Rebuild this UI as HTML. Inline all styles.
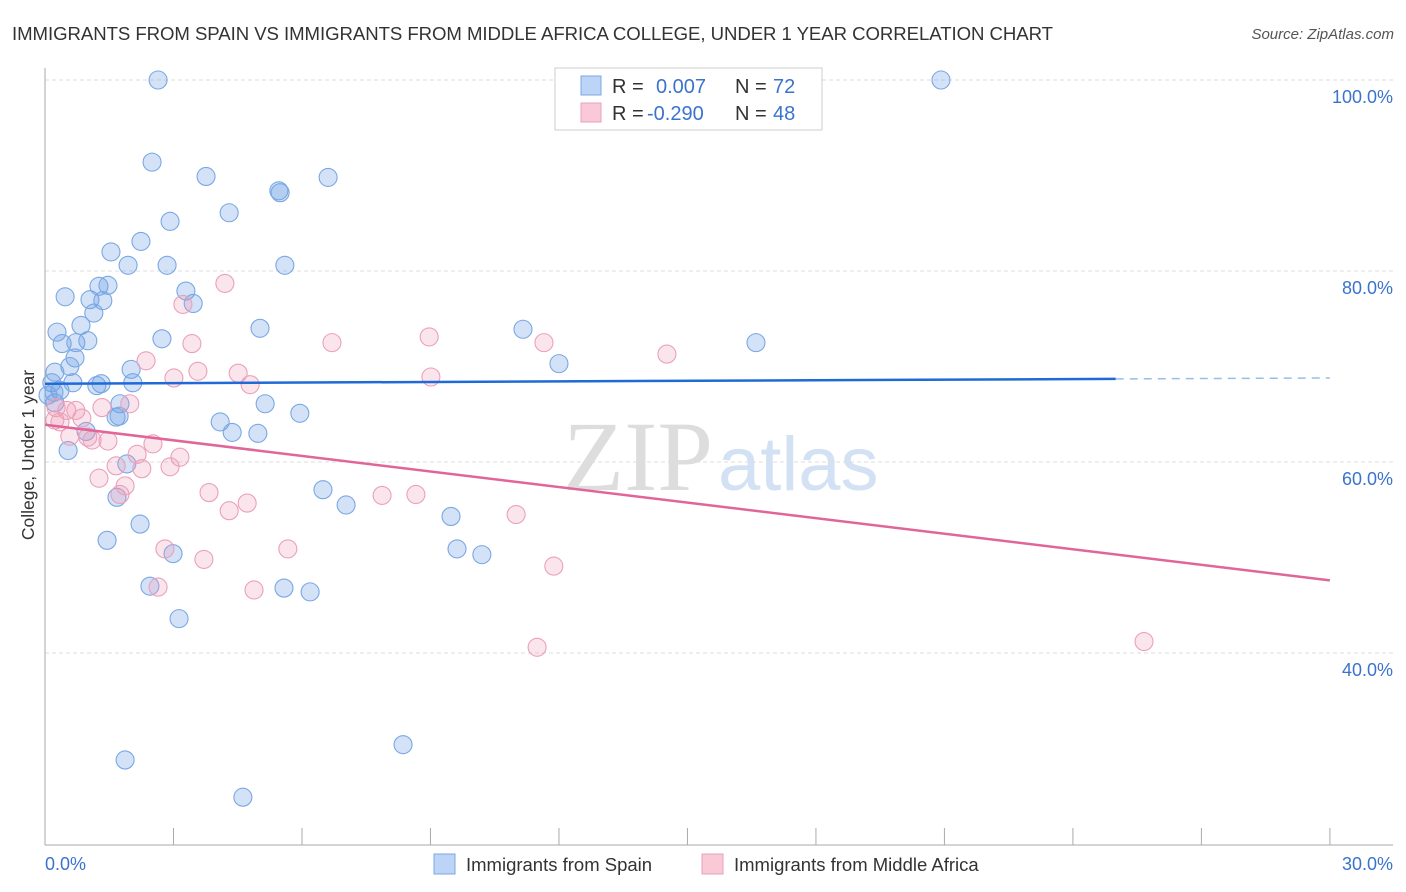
<!DOCTYPE html>
<html><head><meta charset="utf-8"><style>
body{margin:0;background:#fff;font-family:"Liberation Sans",sans-serif;}
svg{display:block}
</style></head><body>
<svg id="chart" width="1406" height="892" xmlns="http://www.w3.org/2000/svg">
<text x="12" y="40" font-size="18.6" fill="#333" textLength="1041">IMMIGRANTS FROM SPAIN VS IMMIGRANTS FROM MIDDLE AFRICA COLLEGE, UNDER 1 YEAR CORRELATION CHART</text>
<text x="1394" y="39" font-size="15" fill="#555" font-style="italic" text-anchor="end">Source: ZipAtlas.com</text>
<text x="713" y="490" font-size="100" fill="#ddd" text-anchor="end" font-family="Liberation Serif">ZIP</text>
<text x="718" y="490" font-size="76" fill="#d3e1f4">atlas</text>
<g id="grid"></g><g id="axes"></g><g id="pts"></g><g id="lines"></g>
<text transform="translate(34,455) rotate(-90)" font-size="17.5" fill="#333" text-anchor="middle">College, Under 1 year</text>
<text x="45" y="870" font-size="18" fill="#3b73cc">0.0%</text>
<text x="1393" y="870" font-size="18" fill="#3b73cc" text-anchor="end">30.0%</text>
<g>
<rect x="555" y="68" width="267" height="62" fill="#fff" stroke="#ccc"/>
<rect x="581" y="76" width="20" height="19" fill="#bcd4f5" stroke="#7aa7e6"/>
<rect x="581" y="103" width="20" height="19" fill="#f9c9d8" stroke="#ec9fb8"/>
<text x="612" y="93" font-size="20" fill="#333">R = <tspan fill="#3b73cc" x="656">0.007</tspan><tspan x="735">N =</tspan><tspan fill="#3b73cc" x="773">72</tspan></text>
<text x="612" y="120" font-size="20" fill="#333">R = <tspan fill="#3b73cc" x="647">-0.290</tspan><tspan x="735">N =</tspan><tspan fill="#3b73cc" x="773">48</tspan></text>
</g>
<g>
<rect x="434" y="854" width="21" height="20" fill="#bcd4f5" stroke="#7aa7e6"/>
<text x="466" y="871" font-size="18.5" fill="#333">Immigrants from Spain</text>
<rect x="702" y="854" width="21" height="20" fill="#f9c9d8" stroke="#ec9fb8"/>
<text x="734" y="871" font-size="18.5" fill="#333">Immigrants from Middle Africa</text>
</g>
</svg>
<script>
const yTicks=[100,80,60,40];
const yTickLabels=["100.0%","80.0%","60.0%","40.0%"];
const xTicks=[0,3,6,9,12,15,18,21,24,27,30];
const spainX=[2.64,20.92,2.50,3.76,6.61,5.46,5.49,4.30,2.92,1.54,2.24,1.94,2.85,5.60,0.47,1.05,1.26,1.47,1.35,1.14,3.29,3.46,0.84,0.28,0.40,0.72,1.00,5.02,11.16,2.73,16.60,0.70,0.58,0.23,2.01,12.00,0.16,0.35,0.65,1.21,1.31,2.05,0.21,5.14,1.75,1.66,1.73,5.95,4.09,4.37,4.97,0.96,0.54,1.91,1.68,6.49,7.03,9.48,2.22,1.45,9.62,10.20,2.99,2.45,5.58,6.19,3.13,8.36,1.87,4.62,0.23,0.07];
const spainY=[100.0,100.0,91.4,89.9,89.8,88.4,88.2,86.1,85.2,82.0,83.1,80.6,80.6,80.6,77.3,77.0,78.4,78.5,76.9,75.6,77.9,76.6,74.3,73.6,72.4,72.5,72.7,74.0,73.9,72.9,72.5,70.9,70.0,69.4,69.7,70.3,68.3,67.5,68.3,68.0,68.2,68.3,67.3,66.1,66.1,64.7,64.8,65.1,64.2,63.1,63.0,63.2,61.2,59.8,56.3,57.1,55.5,54.3,53.5,51.8,50.9,50.3,50.4,47.0,46.8,46.4,43.6,30.4,28.8,24.9,66.2,67.0];
const africaX=[4.20,3.22,3.43,6.70,8.97,11.65,14.52,2.36,3.01,3.57,4.51,4.79,9.01,1.98,1.33,0.72,0.51,0.26,0.23,0.35,0.86,1.00,1.10,1.47,2.52,0.58,2.15,3.15,1.66,2.26,2.92,1.26,1.87,1.75,3.83,4.72,4.30,7.87,8.66,11.00,2.80,5.67,3.71,2.64,4.88,11.88,11.49,25.66];
const africaY=[78.7,76.5,72.4,72.5,73.1,72.5,71.3,70.6,68.8,69.5,69.3,68.1,68.9,66.1,65.7,65.4,65.4,65.7,64.4,64.2,64.6,62.6,62.3,62.2,61.9,62.7,60.8,60.5,59.6,59.3,59.5,58.3,57.5,56.6,56.8,55.7,54.9,56.5,56.6,54.5,50.9,50.9,49.8,46.9,46.6,49.1,40.6,41.2];
const spainTrend=[[0,68.2],[25,68.7],[30,68.8]];
const africaTrend=[[0,63.9],[30,47.6]];
const NS="http://www.w3.org/2000/svg";
const X=v=>45+v*42.83, Y=v=>80+(100-v)*9.55;
function mk(tag,attrs,parent){const e=document.createElementNS(NS,tag);for(const k in attrs)e.setAttribute(k,attrs[k]);parent.appendChild(e);return e;}
const grid=document.getElementById('grid'),axes=document.getElementById('axes'),pts=document.getElementById('pts'),lines=document.getElementById('lines');
yTicks.forEach((t,i)=>{
 const l=mk('line',{x1:45,x2:1393,y1:Y(t),y2:Y(t),stroke:'#ddd','stroke-dasharray':'4,3'},grid);
 
 
 const tx=mk('text',{x:1393,y:Y(t)+23,'font-size':18,fill:'#3b73cc','text-anchor':'end'},grid);
 tx.textContent=yTickLabels[i];
 
 
});
const ya=mk('line',{x1:45,x2:45,y1:68,y2:845,stroke:'#aaa'},axes);


const xa=mk('line',{x1:45,x2:1393,y1:845,y2:845,stroke:'#aaa'},axes);


xTicks.forEach(t=>{
 const l=mk('line',{x1:X(t),x2:X(t),y1:828,y2:845,stroke:'#aaa'},axes);
 
 
});
function dots(xs,ys,fill,stroke,name){
 xs.forEach((x,i)=>{
  const c=mk('circle',{cx:X(x),cy:Y(ys[i]),r:9,fill:fill,stroke:stroke,'stroke-width':1.1},pts);
  
  
 });
}
dots(spainX,spainY,'rgba(110,160,230,0.3)','#7aa8e4','spain-point');
dots(africaX,africaY,'rgba(240,150,180,0.25)','#eba0ba','middle-africa-point');
const s1=mk('line',{x1:X(spainTrend[0][0]),y1:Y(spainTrend[0][1]),x2:X(spainTrend[1][0]),y2:Y(spainTrend[1][1]),stroke:'#1f6ad6','stroke-width':2.5},lines);


const s2=mk('line',{x1:X(spainTrend[1][0]),y1:Y(spainTrend[1][1]),x2:X(spainTrend[2][0]),y2:Y(spainTrend[2][1]),stroke:'#9bbce8','stroke-width':1.5,'stroke-dasharray':'8,6'},lines);


const a1=mk('line',{x1:X(africaTrend[0][0]),y1:Y(africaTrend[0][1]),x2:X(africaTrend[1][0]),y2:Y(africaTrend[1][1]),stroke:'#e0669a','stroke-width':2.5},lines);


</script>
</body></html>
